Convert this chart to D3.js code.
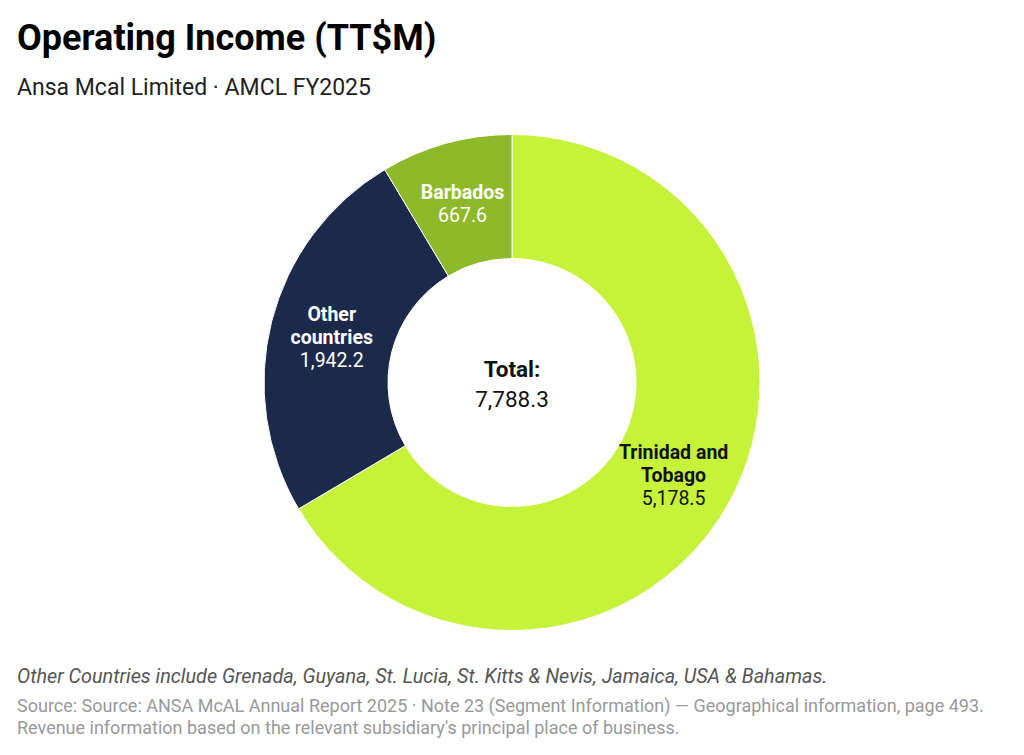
<!DOCTYPE html>
<html><head><meta charset="utf-8">
<script src="https://cdn.jsdelivr.net/npm/d3@7"></script>
<style>
html,body{margin:0;padding:0;background:#fff;}
svg{display:block;font-family:Roboto,"Noto Sans",sans-serif;}
</style></head>
<body>
<svg id="chart" width="1024" height="755"></svg>
<script>
const categories = ["Trinidad and Tobago", "Other countries", "Barbados"];
const labelLines = [["Trinidad and", "Tobago"], ["Other", "countries"], ["Barbados"]];
const values = [5178.5, 1942.2, 667.6];
const colors = ["#c6f23a", "#1b2a4a", "#8db92a"];
const labelColors = ["#111111", "#ffffff", "#ffffff"];
const totalValue = 7788.3;

const svg = d3.select("#chart");
const cx = 512, cy = 382.5, outerR = 248, innerR = 124;

svg.append("text").attr("x", 17).attr("y", 50)
  .attr("font-size", 36).attr("font-weight", 700).attr("fill", "#000")
  .text("Operating Income (TT$M)");
svg.append("text").attr("x", 17).attr("y", 95)
  .attr("font-size", 23).attr("fill", "#222")
  .text("Ansa Mcal Limited · AMCL FY2025");

const data = categories.map((c, i) => ({name: c, value: values[i], i}));
const pie = d3.pie().sort(null).value(d => d.value);
const arc = d3.arc().innerRadius(innerR).outerRadius(outerR);
const labelArc = d3.arc().innerRadius((innerR + outerR) / 2).outerRadius((innerR + outerR) / 2);
const fmt = d3.format(",.1f");

const g = svg.append("g").attr("transform", `translate(${cx},${cy})`);
const arcs = pie(data);
g.selectAll("path").data(arcs).join("path")
  .attr("d", arc).attr("fill", d => colors[d.data.i])
  .attr("stroke", "#fff").attr("stroke-width", 1);

arcs.forEach(a => {
  const [x, y] = labelArc.centroid(a);
  const lines = labelLines[a.data.i];
  const n = lines.length + 1;
  const lh = 23;
  const t = g.append("text").attr("text-anchor", "middle")
    .attr("fill", labelColors[a.data.i]).attr("font-size", 19.5);
  const y0 = y - (n - 1) * lh / 2 + 7;
  lines.forEach((l, k) => {
    t.append("tspan").attr("x", x).attr("y", y0 + k * lh).attr("font-weight", 700).text(l);
  });
  t.append("tspan").attr("x", x).attr("y", y0 + lines.length * lh).attr("font-weight", 400).text(fmt(a.data.value));
});

g.append("text").attr("text-anchor", "middle").attr("y", -5.5)
  .attr("font-size", 22.5).attr("font-weight", 700).attr("fill", "#111").text("Total:");
g.append("text").attr("text-anchor", "middle").attr("y", 24.5)
  .attr("font-size", 22.5).attr("fill", "#111").text(fmt(totalValue));

svg.append("text").attr("x", 17).attr("y", 683)
  .attr("font-size", 19.8).attr("font-style", "italic").attr("fill", "#555").text("Other Countries include Grenada, Guyana, St. Lucia, St. Kitts & Nevis, Jamaica, USA & Bahamas.");
svg.append("text").attr("x", 17).attr("y", 712)
  .attr("font-size", 18).attr("fill", "#999").text("Source: Source: ANSA McAL Annual Report 2025 · Note 23 (Segment Information) — Geographical information, page 493.");
svg.append("text").attr("x", 17).attr("y", 734)
  .attr("font-size", 18).attr("fill", "#999").text("Revenue information based on the relevant subsidiary's principal place of business.");
</script>
</body></html>
